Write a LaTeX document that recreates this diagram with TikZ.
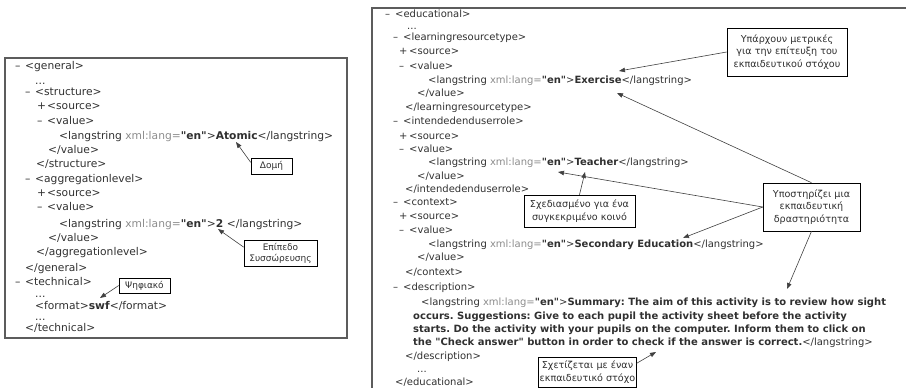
\documentclass[tikz,border=0pt]{standalone}
\usepackage{fontspec}
\setmainfont{DejaVu Sans}[Ligatures=TeXOff]
\usepackage{xcolor}
\usetikzlibrary{arrows.meta}
\frenchspacing

\definecolor{tagtext}{HTML}{303030}
\definecolor{attrtext}{HTML}{8C8C8C}
\definecolor{framegray}{HTML}{5C5C5C}
\definecolor{linkgray}{HTML}{404040}

\newcommand{\opentag}[1]{\makebox[10pt][l]{–}#1}
\newcommand{\plustag}[1]{\makebox[10pt][l]{+}#1}
\newcommand{\qmark}{\symbol{34}}
\newcommand{\langopen}{<langstring \textcolor{attrtext}{xml:lang=}\textbf{\qmark en\qmark}>}
\newcommand{\langval}[1]{\langopen\textbf{#1}</langstring>}

\begin{document}
\begin{tikzpicture}[x=1pt,y=-1pt,
  xmlline/.style={anchor=west,inner sep=0pt,text height=7.5pt,text depth=2pt,
    font=\fontsize{10.7}{13}\selectfont,text=tagtext},
  rightline/.style={xmlline,font=\fontsize{10}{12}\selectfont},
  callout/.style={draw=black,line width=0.6pt,fill=white,align=center,inner sep=1pt,
    font=\fontsize{9.6}{12.5}\selectfont,text=tagtext},
  smallcallout/.style={callout,font=\fontsize{9}{11}\selectfont},
  pointer/.style={draw=linkgray,line width=0.6pt,-{Triangle[length=6pt,width=4.5pt]}}]
\useasboundingbox (0,0) rectangle (906,388);

% frames
\draw[framegray,line width=1.5pt] (5,58) rectangle (347,338);
\draw[framegray,line width=2pt] (906,8) -- (372,8) -- (372,388);

% left panel: general / technical
\foreach \px/\py/\txt [count=\k] in {
  15/67/{\opentag{<general>}},
  35/82/{...},
  25/93/{\opentag{<structure>}},
  37/107/{\plustag{<source>}},
  37/122/{\opentag{<value>}},
  59/137/{\langval{Atomic}},
  48/151/{</value>},
  36/165/{</structure>},
  25/180/{\opentag{<aggregationlevel>}},
  37/194/{\plustag{<source>}},
  37/208/{\opentag{<value>}},
  59/225/{\langval{2 }},
  48/239/{</value>},
  36/253/{</aggregationlevel>},
  25/269/{</general>},
  15/283/{\opentag{<technical>}},
  35/295/{...},
  35/307/{<format>\textbf{swf}</format>},
  35/318/{...},
  25/329/{</technical>}}
  \node[xmlline] (lft\k) at (\px,\py) {\txt};

% right panel: educational
\foreach \px/\py/\txt [count=\k] in {
  385/15/{\opentag{<educational>}},
  407/27/{...},
  393/38/{\opentag{<learningresourcetype>}},
  399/52/{\plustag{<source>}},
  399/67/{\opentag{<value>}},
  428/81/{\langval{Exercise}},
  417/94/{</value>},
  405/108/{</learningresourcetype>},
  393/122/{\opentag{<intendedenduserrole>}},
  399/137/{\plustag{<source>}},
  399/150/{\opentag{<value>}},
  428/163/{\langval{Teacher}},
  417/177/{</value>},
  405/190/{</intendedenduserrole>},
  393/203/{\opentag{<context>}},
  399/217/{\plustag{<source>}},
  399/231/{\opentag{<value>}},
  428/245/{\langval{Secondary Education}},
  417/258/{</value>},
  405/273/{</context>},
  393/288/{\opentag{<description>}},
  421/303/{\langopen\textbf{Summary: The aim of this activity is to review how sight}},
  413/317/{\textbf{occurs. Suggestions: Give to each pupil the activity sheet before the activity}},
  413/330/{\textbf{starts. Do the activity with your pupils on the computer. Inform them to click on}},
  413/343/{\textbf{the \qmark Check answer\qmark{} button in order to check if the answer is correct.}</langstring>},
  405/357/{</description>},
  417/370/{...},
  395/383/{</educational>}}
  \node[rightline] (rgt\k) at (\px,\py) {\txt};

% callouts
\node[smallcallout,minimum width=41pt,minimum height=16pt] (structbox) at (271.5,166) {Δομή};
\node[smallcallout,minimum width=73pt,minimum height=26pt] (aggrbox) at (280.5,253) {Επίπεδο\\Συσσώρευσης};
\node[smallcallout,minimum width=51pt,minimum height=15pt] (formatbox) at (144.5,285.5) {Ψηφιακό};
\node[callout,minimum width=120pt,minimum height=48pt] (metricbox) at (787,52) {Υπάρχουν μετρικές\\για την επίτευξη του\\εκπαιδευτικού στόχου};
\node[callout,minimum width=97pt,minimum height=48pt] (supportbox) at (811.5,207) {Υποστηρίζει μια\\εκπαιδευτική\\δραστηριότητα};
\node[callout,minimum width=111pt,minimum height=32pt] (audiencebox) at (579.5,211) {Σχεδιασμένο για ένα\\συγκεκριμένο κοινό};
\node[callout,minimum width=91pt,minimum height=30pt] (goalbox) at (587.5,372) {Σχετίζεται με έναν\\εκπαιδευτικό στόχο};

% arrow tips
\coordinate (atomictip) at (236,142);
\coordinate (aggrtip) at (218,229);
\coordinate (swftip) at (100,298);
\coordinate (exercisetip) at (619,71);
\coordinate (valuetip) at (617,93);
\coordinate (teachertip) at (558,172);
\coordinate (audiencetip) at (585,172);
\coordinate (educationtip) at (683,238);
\coordinate (summarytip) at (787,289);
\coordinate (goaltip) at (656,352);

\draw[pointer] (structbox.170) -- (atomictip);
\draw[pointer] (aggrbox.171) -- (aggrtip);
\draw[pointer] (formatbox.west) -- (swftip);
\draw[pointer] (metricbox.west) -- (exercisetip);
\draw[pointer] (supportbox.north) -- (valuetip);
\draw[pointer] (supportbox.west) -- (teachertip);
\draw[pointer] (supportbox.west) -- (educationtip);
\draw[pointer] (supportbox.south) -- (summarytip);
\draw[pointer] (audiencebox.north) -- (audiencetip);
\draw[pointer] (goalbox.10) -- (goaltip);
\end{tikzpicture}
\end{document}
